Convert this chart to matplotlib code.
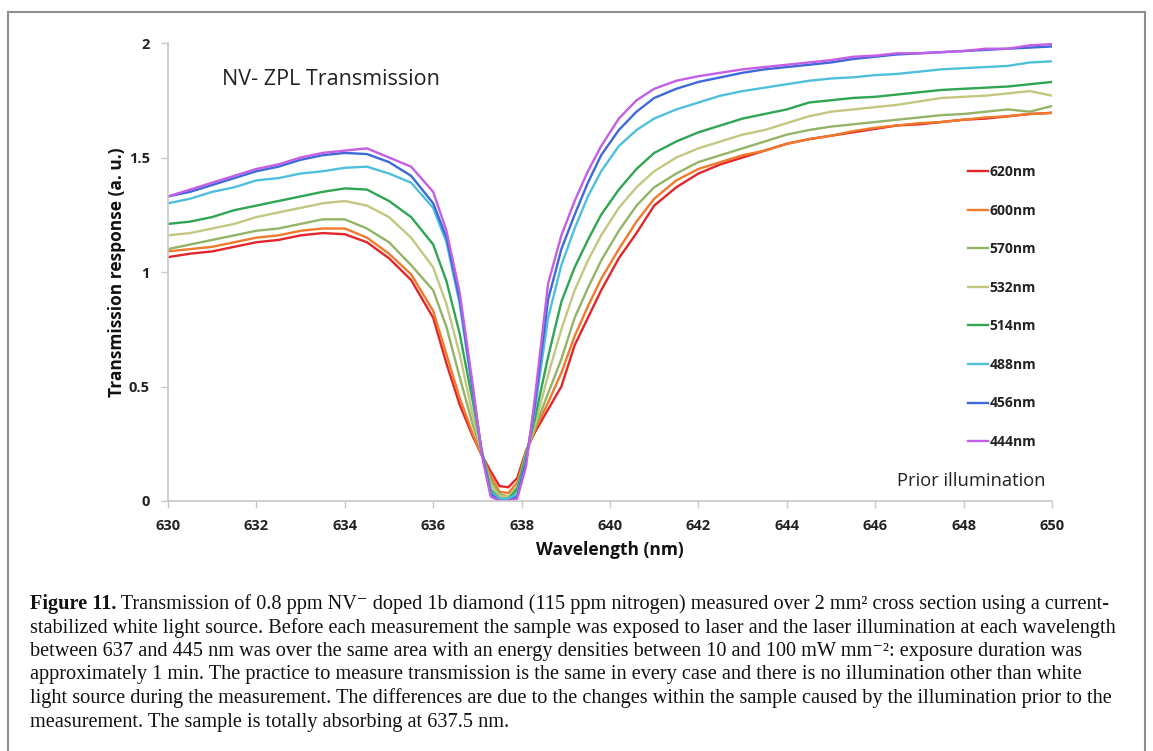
import numpy as np
import matplotlib.pyplot as plt
from matplotlib.lines import Line2D

# wavelength grid (nm) the curves were read at
wl = [630, 630.5, 631, 631.5, 632, 632.5, 633, 633.5, 634, 634.5, 635, 635.5,
      636, 636.3, 636.6, 636.9, 637.1, 637.3, 637.5, 637.7, 637.9, 638.1, 638.3,
      638.6, 638.9, 639.2, 639.5, 639.8, 640.2, 640.6, 641, 641.5, 642, 642.5,
      643, 643.5, 644, 644.5, 645, 645.5, 646, 646.5, 647, 647.5, 648, 648.5,
      649, 649.5, 650]

t620 = [1.065, 1.08, 1.09, 1.11, 1.13, 1.14, 1.16, 1.17, 1.165, 1.13, 1.06, 0.965,
        0.80, 0.60, 0.42, 0.28, 0.20, 0.13, 0.065, 0.06, 0.10, 0.22, 0.30,
        0.40, 0.50, 0.68, 0.80, 0.92, 1.06, 1.17, 1.29, 1.37, 1.43, 1.47,
        1.50, 1.53, 1.56, 1.58, 1.595, 1.61, 1.625, 1.64, 1.645, 1.655, 1.665, 1.67,
        1.68, 1.69, 1.695]
t600 = [1.09, 1.10, 1.11, 1.13, 1.15, 1.16, 1.18, 1.19, 1.19, 1.15, 1.08, 0.99,
        0.83, 0.64, 0.45, 0.29, 0.20, 0.11, 0.04, 0.035, 0.08, 0.21, 0.31,
        0.43, 0.56, 0.72, 0.85, 0.97, 1.10, 1.22, 1.32, 1.40, 1.45, 1.48,
        1.51, 1.53, 1.56, 1.58, 1.595, 1.615, 1.63, 1.64, 1.65, 1.655, 1.665, 1.675,
        1.68, 1.69, 1.695]
t570 = [1.10, 1.12, 1.14, 1.16, 1.18, 1.19, 1.21, 1.23, 1.23, 1.19, 1.13, 1.03,
        0.92, 0.76, 0.54, 0.33, 0.21, 0.09, 0.03, 0.02, 0.06, 0.21, 0.32,
        0.47, 0.62, 0.80, 0.93, 1.05, 1.18, 1.29, 1.37, 1.43, 1.48, 1.51,
        1.54, 1.57, 1.60, 1.62, 1.635, 1.645, 1.655, 1.665, 1.675, 1.685, 1.69, 1.70,
        1.71, 1.70, 1.725]
t532 = [1.16, 1.17, 1.19, 1.21, 1.24, 1.26, 1.28, 1.30, 1.31, 1.29, 1.24, 1.15,
        1.02, 0.86, 0.64, 0.37, 0.21, 0.07, 0.02, 0.02, 0.05, 0.21, 0.33,
        0.55, 0.75, 0.92, 1.05, 1.16, 1.28, 1.37, 1.44, 1.50, 1.54, 1.57,
        1.60, 1.62, 1.65, 1.68, 1.70, 1.71, 1.72, 1.73, 1.745, 1.76, 1.765, 1.77,
        1.78, 1.79, 1.77]
t514 = [1.21, 1.22, 1.24, 1.27, 1.29, 1.31, 1.33, 1.35, 1.365, 1.36, 1.31, 1.24,
        1.12, 0.96, 0.73, 0.43, 0.22, 0.05, 0.01, 0.01, 0.05, 0.20, 0.36,
        0.63, 0.87, 1.02, 1.14, 1.25, 1.36, 1.45, 1.52, 1.57, 1.61, 1.64,
        1.67, 1.69, 1.71, 1.74, 1.75, 1.76, 1.765, 1.775, 1.785, 1.795, 1.80, 1.805,
        1.81, 1.82, 1.83]
t488 = [1.30, 1.32, 1.35, 1.37, 1.40, 1.41, 1.43, 1.44, 1.455, 1.46, 1.43, 1.39,
        1.28, 1.13, 0.86, 0.47, 0.21, 0.04, 0.01, 0.01, 0.03, 0.18, 0.40,
        0.80, 1.03, 1.19, 1.33, 1.44, 1.55, 1.62, 1.67, 1.71, 1.74, 1.77,
        1.79, 1.805, 1.82, 1.835, 1.845, 1.85, 1.86, 1.865, 1.875, 1.885, 1.89, 1.895,
        1.90, 1.915, 1.92]
t456 = [1.33, 1.35, 1.38, 1.41, 1.44, 1.46, 1.49, 1.51, 1.52, 1.515, 1.48, 1.42,
        1.30, 1.15, 0.88, 0.48, 0.21, 0.03, 0.0, 0.0, 0.02, 0.17, 0.42,
        0.88, 1.10, 1.25, 1.39, 1.51, 1.62, 1.70, 1.76, 1.80, 1.83, 1.85,
        1.87, 1.885, 1.895, 1.905, 1.915, 1.93, 1.94, 1.95, 1.955, 1.96, 1.965, 1.97,
        1.975, 1.98, 1.985]
t444 = [1.33, 1.36, 1.39, 1.42, 1.45, 1.47, 1.50, 1.52, 1.53, 1.54, 1.50, 1.46,
        1.35, 1.18, 0.91, 0.50, 0.20, 0.02, 0.0, 0.0, 0.01, 0.15, 0.45,
        0.95, 1.16, 1.31, 1.44, 1.55, 1.67, 1.75, 1.80, 1.835, 1.855, 1.87,
        1.885, 1.895, 1.905, 1.915, 1.925, 1.94, 1.945, 1.955, 1.955, 1.96, 1.965, 1.975,
        1.975, 1.99, 1.995]

labels = ["620nm", "600nm", "570nm", "532nm", "514nm", "488nm", "456nm", "444nm"]
series = [t620, t600, t570, t532, t514, t488, t456, t444]
colors = ["#e3262a", "#f07a2b", "#93b466", "#c3c77f", "#30a552", "#4fc0dc", "#3d69d9", "#c45ee4"]

caption = [
    "Transmission of 0.8 ppm NV\u207b doped 1b diamond (115 ppm nitrogen) measured over 2 mm\u00b2 cross section using a current-",
    "stabilized white light source. Before each measurement the sample was exposed to laser and the laser illumination at each wavelength",
    "between 637 and 445 nm was over the same area with an energy densities between 10 and 100 mW mm\u207b\u00b2: exposure duration was",
    "approximately 1 min. The practice to measure transmission is the same in every case and there is no illumination other than white",
    "light source during the measurement. The differences are due to the changes within the sample caused by the illumination prior to the",
    "measurement. The sample is totally absorbing at 637.5 nm.",
]

W, H = 1153, 751
plt.rcParams['font.family'] = ['Open Sans', 'DejaVu Sans']
fig = plt.figure(figsize=(W / 100, H / 100), dpi=100)
ax = fig.add_axes([168 / W, 1 - 501 / H, (1052 - 168) / W, (501 - 43) / H])

for y, c, lab in zip(series, colors, labels):
    ax.plot(wl, y, color=c, lw=1.7, label=lab)

ax.set_xlim(630, 650)
ax.set_ylim(0, 2)
ax.set_xticks(np.arange(630, 651, 2))
ax.set_yticks([0, 0.5, 1, 1.5, 2])
ax.set_yticklabels(["0", "0.5", "1", "1.5", "2"])
for s in ['top', 'right']:
    ax.spines[s].set_visible(False)
for s in ['left', 'bottom']:
    ax.spines[s].set_color('#c8c8c8')
    ax.spines[s].set_linewidth(1.2)
ax.tick_params(direction='out', length=5, width=1, color='#c8c8c8', pad=8,
               labelsize=10.5, labelcolor='#222222')
for t in ax.get_xticklabels() + ax.get_yticklabels():
    t.set_fontweight('bold')

ax.set_xlabel("Wavelength (nm)", fontsize=12.5, fontweight='bold', color='#111111', va='center')
ax.xaxis.set_label_coords(0.5, (501 - 550) / 458)
ax.set_ylabel("Transmission response (a. u.)", fontsize=12.5, fontweight='bold', color='#111111', va='center')
ax.yaxis.set_label_coords((117 - 168) / 884, (501 - 272) / 458)

ax.text(631.22, 1.84, "NV- ZPL Transmission", fontsize=15.5, color='#222222', va='center', ha='left')
ax.text(649.86, 0.087, "Prior illumination", fontsize=13.2, color='#222222', va='center', ha='right')

leg = ax.legend(loc='upper left', bbox_to_anchor=(968 / W, 1 - 165 / H), bbox_transform=fig.transFigure,
                frameon=False, handlelength=1.45, handletextpad=0.1, labelspacing=1.77,
                borderpad=0, borderaxespad=0, prop={'weight': 'bold', 'size': 10})
for t in leg.get_texts():
    t.set_color('#222222')

# outer frame of the figure panel
fc = '#8f8f8f'
fig.add_artist(Line2D([8 / W, 8 / W], [0, 1 - 12 / H], transform=fig.transFigure, color=fc, lw=1.5))
fig.add_artist(Line2D([1145 / W, 1145 / W], [0, 1 - 12 / H], transform=fig.transFigure, color=fc, lw=1.5))
fig.add_artist(Line2D([8 / W, 1145 / W], [1 - 12 / H, 1 - 12 / H], transform=fig.transFigure, color=fc, lw=1.5))

serif = ['Liberation Serif', 'DejaVu Serif']
cap_size = 14.6
y0 = 604
for i, line in enumerate(caption):
    yy = 1 - (y0 + i * 23.6) / H
    if i == 0:
        fh = fig.text(30 / W, yy, "Figure 11.", family=serif, fontweight='bold', fontsize=cap_size,
                      va='center', ha='left', color='#111111')
        ax.annotate(" " + line, xy=(1, 0), xycoords=fh, va='bottom', ha='left',
                    family=serif, fontsize=cap_size, color='#111111', annotation_clip=False)
    else:
        fig.text(30 / W, yy, line, family=serif, fontsize=cap_size, va='center', ha='left', color='#111111')

fig.savefig("out.png", dpi=100)
